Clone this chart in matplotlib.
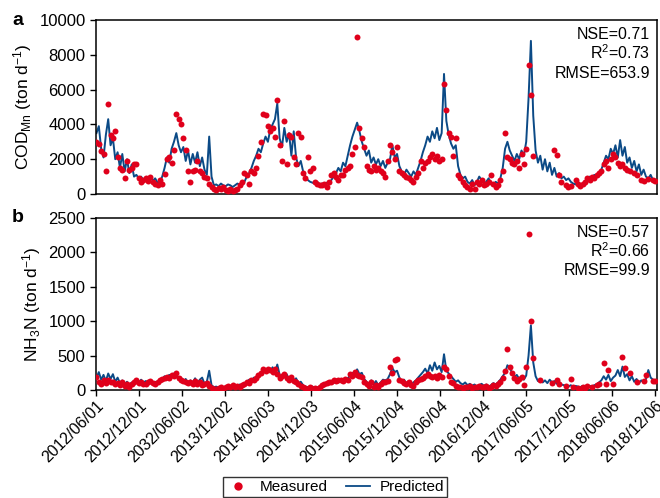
import numpy as np
import pandas as pd
import matplotlib
matplotlib.use("Agg")
import matplotlib.pyplot as plt
from matplotlib.lines import Line2D

plt.rcParams['font.family'] = ['Liberation Sans', 'DejaVu Sans']
plt.rcParams['mathtext.fontset'] = 'custom'
plt.rcParams['mathtext.rm'] = 'Liberation Sans'
plt.rcParams['mathtext.it'] = 'Liberation Sans:italic'
plt.rcParams['mathtext.bf'] = 'Liberation Sans:bold'

# ---------------- data (10-day samples from 2012/06/01) ----------------
start_date = "2012-06-01"
step_days = 10

cod_pred = [
    3500, 3900, 2600, 2100, 3400, 4300, 2800, 3200, 2000, 2400,
    1500, 2300, 1300, 2000, 1200, 1700, 1000, 1100, 900, 1000,
    800, 950, 850, 1000, 750, 900, 650, 700, 1000, 1500,
    2100, 1800, 2600, 3000, 3500, 2800, 2400, 2700, 1900, 2500,
    1700, 2300, 1800, 2400, 1600, 2100, 1400, 1100, 3300, 1000,
    500, 550, 450, 600, 500, 450, 550, 500, 400, 500,
    600, 550, 500, 700, 1000, 1200, 1500, 1900, 2200, 2600,
    2400, 2900, 3300, 3000, 3700, 4000, 4300, 5200, 3200, 2700,
    3800, 3000, 3500, 2200, 3600, 2100, 1600, 1900, 1300, 1000,
    800, 700, 650, 600, 700, 550, 600, 500, 650, 550,
    800, 1000, 1200, 1500, 1300, 1800, 1600, 2200, 2800, 3300,
    3700, 4100, 3600, 3000, 2600, 2200, 2500, 1800, 2100, 1700,
    2000, 1600, 1900, 1500, 1800, 2000, 2800, 2100, 2300, 1600,
    1300, 1100, 1400, 1200, 1000, 1300, 1100, 1500, 1900, 2400,
    2800, 3300, 3000, 3600, 3200, 3800, 3100, 3500, 6900, 4200,
    3400, 2900, 2600, 2800, 1600, 1100, 900, 1000, 700, 600,
    800, 500, 700, 1000, 800, 600, 700, 900, 600, 500,
    700, 600, 900, 1500, 2600, 3000, 2500, 2200, 1900, 2300,
    2000, 2500, 2200, 3000, 5500, 8800, 4500, 2500, 1800, 2200,
    1400, 2000, 1300, 1800, 1100, 1500, 1000, 1200, 900, 1000,
    800, 900, 700, 600, 550, 700, 500, 600, 550, 800,
    1000, 900, 1100, 1000, 1200, 1400, 1800, 2200, 2000, 2600,
    2300, 2800, 2100, 3100, 2200, 2700, 1800, 2100, 1500, 1900,
    1300, 1700, 1100, 1400, 1000, 900, 1100, 800, 750,
]

cod_meas = [
    3000, 2900, 2450, 2300, 1350, 5150, 3400, 3200, 3600, 2100,
    1500, 1400, 900, 1900, 1400, 1500, 1700, 1700, 900, 700,
    800, 900, 750, 1000, 700, 600, 500, 800, 600, 1150,
    2000, 2100, 1800, 2500, 4600, 4300, 4000, 3200, 2500, 1300,
    700, 1300, 1400, 1900, 1300, 1200, 1000, 900, 600, 400,
    300, 250, 350, 300, 400, 250, 200, 300, 200, 250,
    300, 500, 700, 1200, 1100, 600, 1300, 1200, 1500, 2200,
    3000, 4600, 4550, 3900, 3600, 3800, 3300, 5400, 2800, 1900,
    4200, 1700, 3400, 3300, 2100, 1700, 3500, 3300, 1200, 900,
    2100, 1300, 1500, 700, 600, 500, 500, 600, 400, 700,
    1100, 1200, 1000, 800, 1100, 1100, 1400, 1500, 1600, 2300,
    2700, 9000, 3800, 3200, 2700, 1600, 1400, 1300, 1600, 1400,
    1500, 1300, 1200, 1000, 1900, 2800, 2400, 2000, 2700, 1300,
    1200, 1100, 1000, 900, 800, 700, 1000, 1200, 1900, 1500,
    1800, 1900, 2100, 2300, 2000, 2200, 1900, 2000, 6300, 4800,
    3500, 3300, 2200, 3200, 1100, 900, 700, 500, 400, 300,
    600, 300, 700, 600, 800, 500, 600, 700, 1100, 600,
    400, 500, 800, 1300, 3500, 2100, 2000, 1800, 1700, 1900,
    1500, 2300, 1700, 2600, 7400, 5700, 2200, None, None, None,
    None, None, None, None, None, 2500, 2250, 1100, 700, None,
    500, 400, 450, None, 800, 600, 450, 600, 700, 900,
    800, 1000, 900, 1100, 1200, 1300, 1700, 1900, 1500, 2000,
    2300, 2100, 1800, 1600, 1700, 1500, 1400, 1300, None, 1200,
    1100, None, 800, 750, None, 850, None, 800, 750,
]

nh3_pred = [
    180, 260, 150, 220, 130, 240, 160, 230, 120, 180,
    100, 140, 80, 120, 70, 110, 90, 130, 100, 150,
    110, 130, 90, 140, 100, 120, 90, 130, 160, 200,
    180, 220, 200, 240, 210, 150, 180, 110, 160, 90,
    140, 110, 170, 100, 150, 180, 90, 120, 280, 70,
    40, 50, 30, 60, 40, 50, 30, 60, 40, 70,
    50, 80, 60, 90, 110, 150, 130, 180, 160, 210,
    230, 280, 250, 310, 270, 330, 250, 370, 220, 180,
    200, 230, 150, 190, 140, 170, 100, 120, 70, 50,
    40, 30, 50, 30, 40, 30, 50, 80, 110, 90,
    130, 100, 140, 110, 150, 120, 140, 170, 210, 250,
    220, 300, 230, 250, 160, 120, 90, 140, 80, 130,
    70, 110, 150, 140, 160, 230, 320, 260, 280, 180,
    120, 150, 90, 130, 80, 110, 140, 180, 220, 260,
    310, 240, 360, 280, 400, 300, 350, 260, 520, 280,
    240, 200, 160, 120, 140, 100, 80, 110, 70, 90,
    60, 80, 50, 70, 90, 60, 80, 50, 70, 100,
    80, 110, 150, 200, 250, 360, 320, 250, 190, 220,
    160, 200, 150, 210, 500, 940, 400, 200, 130, 150,
    110, 140, 100, 150, 110, 130, 90, 120, 80, 70,
    60, 50, 70, 40, 60, 50, 40, 60, 50, 40,
    60, 50, 70, 80, 110, 140, 200, 150, 220, 130,
    180, 210, 290, 200, 340, 190, 230, 140, 200, 120,
    160, 100, 140, 110, 160, 290, 180, 150, 130,
]

nh3_meas = [
    190, 110, 80, 150, 100, 140, 120, 110, 90, 100,
    70, 110, 60, 80, 50, 90, 110, 140, 100, 120,
    90, 80, 110, 130, 100, 90, 120, 140, 160, 170,
    190, 180, 220, 200, 250, 170, 140, 130, 120, 100,
    110, 80, 130, 90, 110, 70, 80, 100, 60, 30,
    20, 10, 30, 40, 20, 50, 60, 40, 70, 50,
    60, 40, 70, 90, 110, 100, 150, 140, 180, 220,
    250, 300, 280, 310, 290, 260, 300, 230, 170, 200,
    230, 180, 150, 190, 130, 110, 80, 60, 40, 30,
    20, 40, 10, 30, 20, 40, 70, 90, 100, 120,
    110, 140, 130, 150, 140, 130, 160, 140, 230, 200,
    260, 220, 210, 190, 110, 80, 60, 120, 50, 70,
    40, 80, 120, 110, 130, 330, 250, 440, 450, 150,
    130, 100, 90, 120, 70, 60, 110, 140, 160, 180,
    200, 230, 210, 190, 200, 180, 220, 190, 330, 300,
    210, 120, 100, 60, 50, 40, 30, 50, 40, 60,
    30, 50, 40, 60, 50, 40, 60, 30, 50, 70,
    60, 90, 110, 170, 270, 600, 330, 240, 170, 130,
    160, 190, 70, 330, 2270, 1010, 470, None, None, 150,
    None, None, None, None, 100, None, 140, 90, None, None,
    60, None, 160, 40, None, 30, 20, 40, 30, 60,
    None, 50, None, 70, 80, None, 390, 80, 290, None,
    90, None, None, None, 480, 320, None, 240, None, None,
    120, None, None, 130, 220, None, None, 130, 130,
]

tick_dates = ["2012-06-01", "2012-12-01", "2013-06-02", "2013-12-02",
              "2014-06-03", "2014-12-03", "2015-06-04", "2015-12-04",
              "2016-06-04", "2016-12-04", "2017-06-05", "2017-12-05",
              "2018-06-06", "2018-12-06"]
tick_labels = ["2012/06/01", "2012/12/01", "2032/06/02", "2013/12/02",
               "2014/06/03", "2014/12/03", "2015/06/04", "2015/12/04",
               "2016/06/04", "2016/12/04", "2017/06/05", "2017/12/05",
               "2018/06/06", "2018/12/06"]

stats_a = ["NSE=0.71", "R$^{2}$=0.73", "RMSE=653.9"]
stats_b = ["NSE=0.57", "R$^{2}$=0.66", "RMSE=99.9"]

# ---------------- plotting ----------------
RED = '#e0001b'
BLUE = '#0b4a86'

dates = pd.date_range(start_date, periods=len(cod_pred), freq=f"{step_days}D")

def arr(v):
    return np.array([np.nan if x is None else x for x in v], dtype=float)

fig = plt.figure(figsize=(6.6, 4.98), dpi=100)
axA = fig.add_axes([96/660, 1-194/498, 561/660, 174/498])
axB = fig.add_axes([96/660, 1-390/498, 561/660, 172/498])

xlim = (pd.Timestamp("2012-05-30"), pd.Timestamp("2018-12-14"))

for ax, pred, meas, ylim, yticks, ylabel, stats, lab, ly in [
    (axA, cod_pred, cod_meas, (0, 10000), [0, 2000, 4000, 6000, 8000, 10000],
     r"COD$_{\mathrm{Mn}}$ (ton d$^{-1}$)", stats_a, "a", 20),
    (axB, nh3_pred, nh3_meas, (0, 2500), [0, 500, 1000, 1500, 2000, 2500],
     r"NH$_{3}$N (ton d$^{-1}$)", stats_b, "b", 218),
]:
    ax.plot(dates, arr(pred), color=BLUE, lw=1.4, zorder=2)
    ax.plot(dates, arr(meas), 'o', ls='none', color=RED, ms=4.3, mew=0, zorder=3)
    ax.set_ylim(*ylim)
    ax.set_yticks(yticks)
    ax.set_xlim(*xlim)
    ax.set_ylabel(ylabel, fontsize=12.5, labelpad=4)
    ax.tick_params(axis='y', labelsize=12, direction='out', length=4, width=1)
    for sp in ax.spines.values():
        sp.set_linewidth(1.1)
    fs = [0.914, 0.810, 0.695]
    for s, yy in zip(stats, fs):
        ax.text(0.988, yy, s, transform=ax.transAxes, ha='right', va='center', fontsize=11.5)
    fig.text(18/660, 1-ly/498, lab, fontsize=14, fontweight='bold', ha='center', va='center')

axA.set_xticks([])
axB.set_xticks(pd.to_datetime(tick_dates))
axB.set_xticklabels(tick_labels, rotation=45, ha='right', rotation_mode='anchor', fontsize=11.5)
axB.tick_params(axis='x', direction='out', length=4, width=1, pad=2)

handles = [Line2D([], [], marker='o', ls='none', color=RED, ms=6, mew=0),
           Line2D([], [], color=BLUE, lw=1.3)]
leg = fig.legend(handles, ["Measured", "Predicted"], loc='upper center',
                 bbox_to_anchor=(335/660, 1-477/498), ncol=2, fontsize=11,
                 frameon=True, fancybox=False, edgecolor='black',
                 handlelength=1.6, columnspacing=1.2, borderpad=0.2,
                 borderaxespad=0.0, handletextpad=0.6)
leg.get_frame().set_linewidth(1.0)

fig.savefig("out.png", dpi=100)
